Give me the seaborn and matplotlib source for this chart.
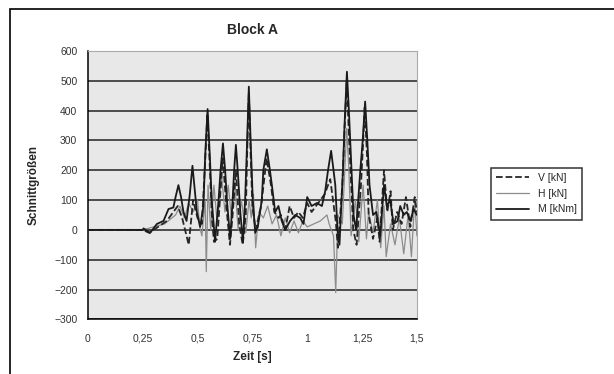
import numpy as np
import pandas as pd
import seaborn as sns
import matplotlib.pyplot as plt
from matplotlib.patches import Rectangle

# Werte
t_m = [0, 0.25, 0.254, 0.284, 0.315, 0.345, 0.368, 0.39, 0.40, 0.413, 0.425, 0.436, 0.45, 0.465,
       0.477, 0.488, 0.497, 0.512, 0.527, 0.535, 0.546, 0.556, 0.565, 0.58, 0.596, 0.605, 0.616,
       0.626, 0.634, 0.649, 0.66, 0.667, 0.675, 0.685, 0.695, 0.707, 0.717, 0.724, 0.734, 0.743,
       0.752, 0.763, 0.775, 0.793, 0.80, 0.816, 0.83, 0.839, 0.854, 0.869, 0.884, 0.9, 0.922,
       0.945, 0.968, 0.983, 1.0, 1.02, 1.044, 1.067, 1.082, 1.095, 1.109, 1.12, 1.128, 1.138,
       1.147, 1.163, 1.17, 1.181, 1.19, 1.196, 1.211, 1.223, 1.242, 1.253, 1.264, 1.274, 1.284,
       1.3, 1.315, 1.333, 1.35, 1.363, 1.378, 1.394, 1.412, 1.424, 1.44, 1.454, 1.47, 1.485, 1.5]
m_val = [0, 0, 5, -10, 20, 30, 70, 75, 110, 150, 110, 60, 30, 120,
         215, 130, 60, 10, 80, 250, 405, 250, 100, -40, 100, 200, 290,
         200, 100, -30, 100, 200, 285, 180, 60, -40, 100, 250, 480, 280,
         100, -10, 10, 100, 200, 270, 200, 150, 60, 80, 30, 0, 30,
         50, 40, 20, 110, 80, 90, 80, 130, 200, 265, 200, 150, 0,
         -50, 200, 350, 530, 400, 300, 50, 0, 200, 300, 430, 300, 150,
         50, 60, -20, 150, 80, 100, 20, 30, 80, 50, 60, 30, 70, 50]

t_v = [0, 0.25, 0.28, 0.32, 0.36, 0.41, 0.43, 0.45, 0.46, 0.48, 0.5, 0.52, 0.535, 0.545, 0.555,
       0.565, 0.575, 0.59, 0.615, 0.635, 0.648, 0.66, 0.675, 0.69, 0.706, 0.72, 0.726, 0.734,
       0.742, 0.75, 0.765, 0.79, 0.815, 0.835, 0.85, 0.87, 0.88, 0.9, 0.92, 0.94, 0.96, 0.98,
       1.0, 1.02, 1.05, 1.08, 1.105, 1.13, 1.14, 1.16, 1.17, 1.18, 1.19, 1.21, 1.225, 1.245,
       1.254, 1.262, 1.272, 1.28, 1.3, 1.32, 1.33, 1.35, 1.365, 1.38, 1.39, 1.41, 1.43, 1.45,
       1.47, 1.49, 1.5]
v_val = [0, 0, -10, 10, 30, 80, 40, -20, -50, 100, 40, 20, 230, 390, 230,
         50, -40, -30, 240, 50, -50, 50, 200, 20, -50, 50, 250, 460,
         260, 80, 0, 80, 240, 150, 60, 40, 50, 0, 80, 40, 60, 40,
         90, 60, 90, 120, 170, 30, -60, 150, 330, 500, 320, 0, -50, 150,
         280, 410, 260, 50, -30, 40, -40, 200, 60, 130, 0, 60, 20, 110,
         10, 110, 60]

t_h = [0, 0.25, 0.3, 0.35, 0.4, 0.42, 0.44, 0.46, 0.48, 0.5, 0.51, 0.52, 0.535, 0.54, 0.548,
       0.56, 0.575, 0.59, 0.61, 0.625, 0.64, 0.655, 0.67, 0.685, 0.7, 0.72, 0.735, 0.745, 0.755,
       0.765, 0.78, 0.8, 0.82, 0.84, 0.86, 0.88, 0.9, 0.92, 0.94, 0.96, 0.98, 1.0, 1.03, 1.06,
       1.09, 1.1, 1.12, 1.13, 1.14, 1.16, 1.18, 1.19, 1.2, 1.22, 1.235, 1.255, 1.27, 1.28, 1.3,
       1.32, 1.335, 1.35, 1.36, 1.38, 1.4, 1.42, 1.44, 1.46, 1.475, 1.49, 1.5]
h_val = [0, 0, 10, 20, 50, 80, 40, 90, 60, 100, 10, -20, 100, -140, 150,
         0, 150, 20, 180, 60, 150, 40, 160, 0, 100, -10, 100, 40, 120,
         -60, 60, 40, 80, 20, 50, -20, 40, -10, 30, -10, 30, 10, 20, 30,
         50, 20, -20, -210, 50, 20, 340, 200, -20, 100, -40, 150, -30, 60, -10,
         100, -60, 80, -90, 20, -50, 40, -80, 50, -90, 100, -20]

x_ticks = [0, 0.25, 0.5, 0.75, 1, 1.25, 1.5]
x_labels = ["0", "0,25", "0,5", "0,75", "1", "1,25", "1,5"]
y_ticks = [-300, -200, -100, 0, 100, 200, 300, 400, 500, 600]

sns.set_style("white")
plt.rcParams['font.family'] = ['Liberation Sans', 'DejaVu Sans']

fig = plt.figure(figsize=(6.14, 3.74), dpi=100)
ax = fig.add_axes([0.143, 0.146, 0.536, 0.718])
ax.set_facecolor("#e8e8e8")

sns.lineplot(x=t_h, y=h_val, ax=ax, color="#8c8c8c", linewidth=0.9, label="H [kN]", zorder=3)
sns.lineplot(x=t_v, y=v_val, ax=ax, color="#262626", linewidth=1.3, linestyle="--", label="V [kN]", zorder=4)
sns.lineplot(x=t_m, y=m_val, ax=ax, color="#1a1a1a", linewidth=1.3, label="M [kNm]", zorder=5)

ax.set_xlim(0, 1.5)
ax.set_ylim(-300, 600)
ax.set_xticks(x_ticks)
ax.set_xticklabels(x_labels)
ax.set_yticks(y_ticks)
ax.yaxis.grid(True, color="#222222", linewidth=1.1)
ax.set_axisbelow(True)
ax.tick_params(axis="both", labelsize=7.5, colors="#333333", direction="inout", length=5, width=0.9)
ax.tick_params(axis="x", pad=8)
ax.tick_params(axis="y", pad=5)
for s in ["left", "bottom"]:
    ax.spines[s].set_color("black")
    ax.spines[s].set_linewidth(1.1)
for s in ["top", "right"]:
    ax.spines[s].set_color("#aaaaaa")
    ax.spines[s].set_linewidth(0.8)

ax.set_title("Block A", fontsize=10, fontweight="bold", pad=12)
ax.set_xlabel("Zeit [s]", fontsize=8.5, fontweight="bold", labelpad=5)
ax.set_ylabel("Schnittgrößen", fontsize=8.5, fontweight="bold", labelpad=10)

# Legende in der Reihenfolge V, H, M
handles, labels = ax.get_legend_handles_labels()
order = [labels.index(l) for l in ["V [kN]", "H [kN]", "M [kNm]"]]
ax.get_legend().remove()
leg = fig.legend([handles[i] for i in order], [labels[i] for i in order],
                 loc="center left", bbox_to_anchor=(0.791, 0.482), fontsize=7.5,
                 frameon=True, fancybox=False, edgecolor="black", handlelength=3.2,
                 borderpad=0.5, labelspacing=0.55)
leg.get_frame().set_linewidth(1.1)

# Rahmen um das Diagramm
fig.patches.append(Rectangle((10 / 614, -0.05), 1.1, 1 - 9 / 374 + 0.05, transform=fig.transFigure,
                             fill=False, edgecolor="black", linewidth=1.2))

fig.savefig("out.png", dpi=100, facecolor="white")
